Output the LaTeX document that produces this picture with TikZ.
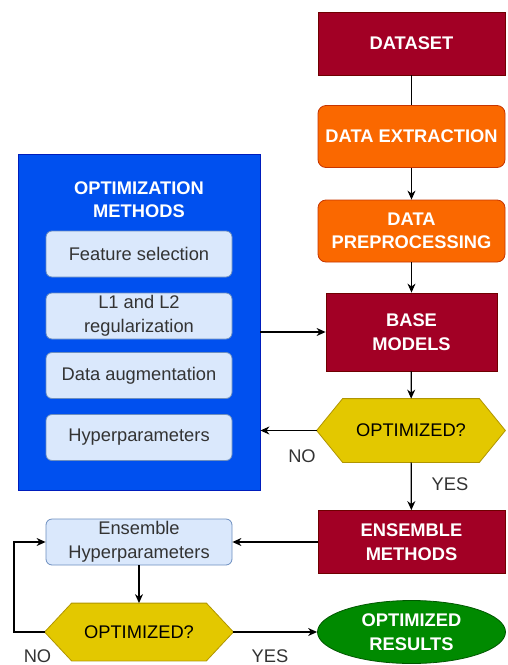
\documentclass[tikz,border=0pt]{standalone}
\usepackage{fontspec}
\setmainfont{Liberation Sans}
\usetikzlibrary{arrows.meta,shapes.geometric}
\pgfdeclarelayer{background}
\pgfsetlayers{background,main}
\definecolor{dred}{HTML}{A20025}\definecolor{dredline}{HTML}{6F0000}
\definecolor{orng}{HTML}{FA6800}\definecolor{orngline}{HTML}{C73500}
\definecolor{blu}{HTML}{0050EF}\definecolor{bluline}{HTML}{001DBC}
\definecolor{ylw}{HTML}{E3C800}\definecolor{ylwline}{HTML}{B09500}
\definecolor{grn}{HTML}{008A00}\definecolor{grnline}{HTML}{005700}
\definecolor{lblu}{HTML}{DAE8FC}\definecolor{lbluline}{HTML}{6C8EBF}
\definecolor{txt}{HTML}{333333}
\begin{document}
\begin{tikzpicture}[x=1pt,y=-1pt,
  basebox/.style={align=center, inner sep=0pt, line width=0.8pt},
  boldtxt/.style={font=\fontsize{18.3}{23.5}\selectfont\bfseries},
  plaintxt/.style={font=\fontsize{18.3}{23.5}\selectfont},
  redbox/.style={basebox, boldtxt, fill=dred, draw=dredline, text=white, minimum width=187pt, minimum height=63pt},
  orangebox/.style={basebox, boldtxt, fill=orng, draw=orngline, text=white, rounded corners=8pt, minimum width=187pt, minimum height=62pt},
  lightbox/.style={basebox, plaintxt, fill=lblu, draw=lbluline, text=txt, rounded corners=6pt, minimum width=186pt, minimum height=46pt},
  hexnode/.style={basebox, plaintxt, text=black},
  hexfill/.style={fill=ylw, draw=ylwline, line width=0.8pt},
  lbl/.style={plaintxt, text=txt, inner sep=0pt},
  arr/.style={line width=1.2pt, -{Stealth[length=9pt,width=8pt]}},
  ln/.style={line width=1.2pt}
]
\useasboundingbox (0,0) rectangle (507,665);

% main column
\node[redbox] (ds) at (411.5,43.5) {DATASET};
\node[orangebox] (ext) at (411.5,136.5) {DATA EXTRACTION};
\node[orangebox] (pre) at (411.5,231) {DATA\\PREPROCESSING};
\node[redbox, minimum width=171pt, minimum height=78pt] (bm) at (411.5,332) {BASE\\MODELS};
\node[hexnode, minimum width=188pt, minimum height=63pt] (h1) at (411,430.5) {OPTIMIZED?};
\node[redbox] (em) at (411.5,542) {ENSEMBLE\\METHODS};

% optimization methods box
\node[basebox, fill=blu, draw=bluline, minimum width=242pt, minimum height=336pt] (opt) at (139,322) {};
\node[boldtxt, text=white, align=center, inner sep=0pt] (optt) at (139,199.5) {OPTIMIZATION\\METHODS};
\node[lightbox] (fs) at (139,254) {Feature selection};
\node[lightbox] (l12) at (139,316) {L1 and L2\\regularization};
\node[lightbox] (da) at (139,375.5) {Data augmentation};
\node[lightbox] (hp) at (139,437.5) {Hyperparameters};

% bottom part
\node[lightbox] (eh) at (139,542) {Ensemble\\Hyperparameters};
\node[hexnode, minimum width=188pt, minimum height=57pt] (h2) at (139,632) {OPTIMIZED?};
\node[basebox, boldtxt, ellipse, fill=grn, draw=grnline, text=white, minimum width=188pt, minimum height=63pt] (res) at (411.5,632) {OPTIMIZED\\RESULTS};

\begin{pgfonlayer}{background}
\fill[hexfill] (h1.west) -- ([xshift=26pt]h1.north west) -- ([xshift=-26pt]h1.north east) -- (h1.east) -- ([xshift=-26pt]h1.south east) -- ([xshift=26pt]h1.south west) -- cycle;
\fill[hexfill] (h2.west) -- ([xshift=27pt]h2.north west) -- ([xshift=-27pt]h2.north east) -- (h2.east) -- ([xshift=-27pt]h2.south east) -- ([xshift=27pt]h2.south west) -- cycle;
\end{pgfonlayer}

% connectors
\draw[ln] (ds) -- (ext);
\draw[arr] (ext) -- (pre);
\draw[arr] (pre) -- (bm);
\draw[arr] (bm) -- (h1);
\draw[arr] (bm.west -| opt.east) -- (bm.west);
\draw[arr] (h1.west) -- (h1.west -| opt.east);
\draw[arr] (h1) -- (em);
\draw[arr] (em.west) -- (eh.east);
\draw[arr] (eh) -- (h2);
\draw[arr] (h2.east) -- (res.west);
\coordinate (lp) at (14,632);
\draw[arr] (h2.west) -- (lp) |- (eh.west);

% labels
\node[lbl] (no1) at (302,456) {NO};
\node[lbl] (yes1) at (450,484.5) {YES};
\node[lbl] (no2) at (37.5,656) {NO};
\node[lbl] (yes2) at (270,656) {YES};
\end{tikzpicture}
\end{document}
